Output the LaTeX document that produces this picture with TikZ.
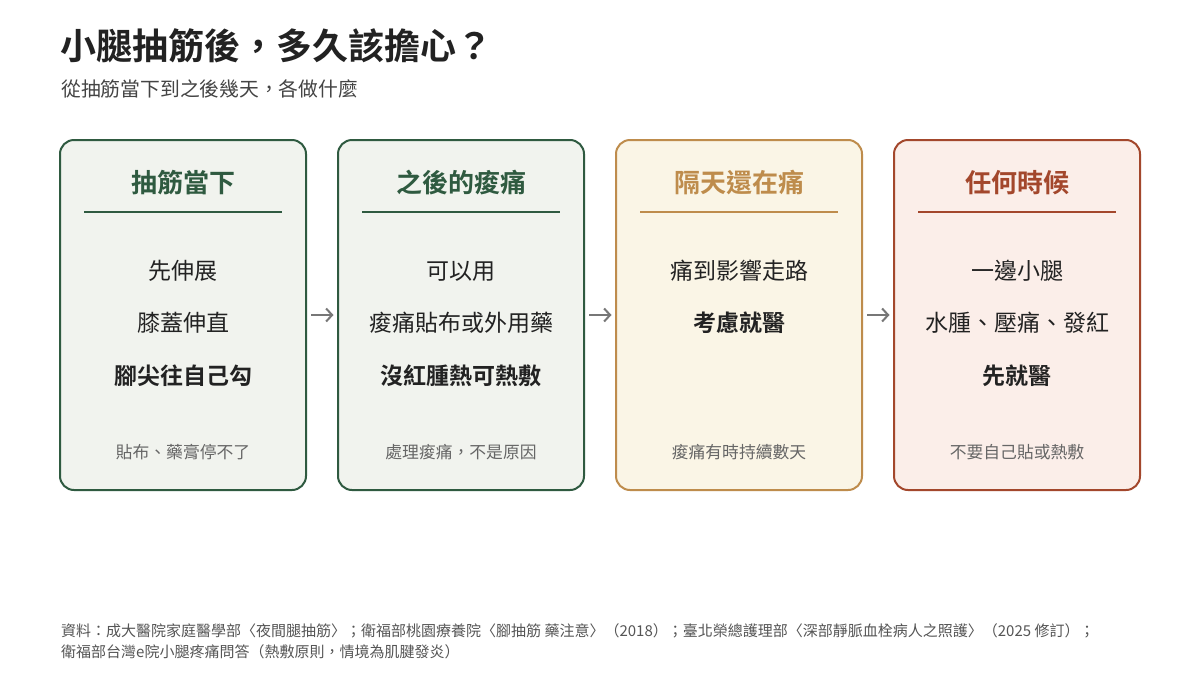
\documentclass[tikz,border=0pt]{standalone}
\usepackage{fontspec}
\setmainfont{Noto Sans CJK TC}[BoldFont={Noto Sans CJK TC Bold}]
\usepackage{xcolor}
\usetikzlibrary{positioning, arrows.meta}

\definecolor{ink}{HTML}{222222}
\definecolor{subink}{HTML}{444444}
\definecolor{noteink}{HTML}{666666}
\definecolor{srcink}{HTML}{555555}
\definecolor{arrowgray}{HTML}{777777}
\definecolor{greenedge}{HTML}{2F5A40}
\definecolor{greenfill}{HTML}{F1F3EE}
\definecolor{goldedge}{HTML}{BE8C4C}
\definecolor{goldfill}{HTML}{FAF5E6}
\definecolor{rustedge}{HTML}{A3472C}
\definecolor{rustfill}{HTML}{FBEEE9}

\tikzset{every picture/.append style={x=1pt, y=1pt}}
\tikzset{
  card/.style={draw=#1edge, fill=#1fill, line width=2pt, rounded corners=14pt,
    minimum width=246pt, minimum height=350pt, inner sep=0pt},
  cardhead/.style={text=#1edge, font=\fontsize{26}{30}\selectfont\bfseries, inner sep=0pt},
  cardrule/.style={draw=#1edge, line width=1.5pt},
  bodytxt/.style={text=ink, font=\fontsize{23}{27}\selectfont, inner sep=0pt},
  boldtxt/.style={text=ink, font=\fontsize{23}{27}\selectfont\bfseries, inner sep=0pt},
  notetxt/.style={text=noteink, font=\fontsize{16.8}{20}\selectfont, inner sep=0pt},
  flow/.style={draw=arrowgray, line width=2pt, -{Straight Barb[length=6pt, width=13pt]},
    shorten <=4pt, shorten >=3.5pt}
}

\begin{document}
\begin{tikzpicture}
  \useasboundingbox[fill=white] (0,0) rectangle (1200,-675);

  % Title block
  \node[anchor=west, inner sep=0pt, text=ink, font=\fontsize{36}{42}\selectfont\bfseries]
    (title) at (60,-46) {小腿抽筋後，多久該擔心？};
  \node[anchor=west, inner sep=0pt, text=subink, font=\fontsize{19.8}{24}\selectfont]
    (subtitle) at (61,-89) {從抽筋當下到之後幾天，各做什麼};

  % Cards
  \node[card=green] (c1) at (183,-315) {};
  \node[card=green] (c2) at (461,-315) {};
  \node[card=gold]  (c3) at (739,-315) {};
  \node[card=rust]  (c4) at (1017,-315) {};

  % Card 1
  \node[cardhead=green] (h1) at ([yshift=-44pt]c1.north) {抽筋當下};
  \draw[cardrule=green] ([xshift=25pt, yshift=-73pt]c1.north west) -- ([xshift=-25pt, yshift=-73pt]c1.north east);
  \node[bodytxt] (a1) at ([yshift=-132pt]c1.north) {先伸展};
  \node[bodytxt] (a2) at ([yshift=-184pt]c1.north) {膝蓋伸直};
  \node[boldtxt] (a3) at ([yshift=-237pt]c1.north) {腳尖往自己勾};
  \node[notetxt] (n1) at ([yshift=-313pt]c1.north) {貼布、藥膏停不了};

  % Card 2
  \node[cardhead=green] (h2) at ([yshift=-44pt]c2.north) {之後的痠痛};
  \draw[cardrule=green] ([xshift=25pt, yshift=-73pt]c2.north west) -- ([xshift=-25pt, yshift=-73pt]c2.north east);
  \node[bodytxt] (b1) at ([yshift=-132pt]c2.north) {可以用};
  \node[bodytxt] (b2) at ([yshift=-184pt]c2.north) {痠痛貼布或外用藥};
  \node[boldtxt] (b3) at ([yshift=-237pt]c2.north) {沒紅腫熱可熱敷};
  \node[notetxt] (n2) at ([yshift=-313pt]c2.north) {處理痠痛，不是原因};

  % Card 3
  \node[cardhead=gold] (h3) at ([yshift=-44pt]c3.north) {隔天還在痛};
  \draw[cardrule=gold] ([xshift=25pt, yshift=-73pt]c3.north west) -- ([xshift=-25pt, yshift=-73pt]c3.north east);
  \node[bodytxt] (d1) at ([yshift=-132pt]c3.north) {痛到影響走路};
  \node[boldtxt] (d2) at ([yshift=-184pt]c3.north) {考慮就醫};
  \node[notetxt] (n3) at ([yshift=-313pt]c3.north) {痠痛有時持續數天};

  % Card 4
  \node[cardhead=rust] (h4) at ([yshift=-44pt]c4.north) {任何時候};
  \draw[cardrule=rust] ([xshift=25pt, yshift=-73pt]c4.north west) -- ([xshift=-25pt, yshift=-73pt]c4.north east);
  \node[bodytxt] (e1) at ([yshift=-132pt]c4.north) {一邊小腿};
  \node[bodytxt] (e2) at ([yshift=-184pt]c4.north) {水腫、壓痛、發紅};
  \node[boldtxt] (e3) at ([yshift=-237pt]c4.north) {先就醫};
  \node[notetxt] (n4) at ([yshift=-313pt]c4.north) {不要自己貼或熱敷};

  % Arrows between cards
  \draw[flow] (c1) -- (c2);
  \draw[flow] (c2) -- (c3);
  \draw[flow] (c3) -- (c4);

  % Sources
  \node[anchor=west, inner sep=0pt, text=srcink, font=\fontsize{15}{18}\selectfont]
    (src1) at (61,-631) {資料：成大醫院家庭醫學部〈夜間腿抽筋〉；衛福部桃園療養院〈腳抽筋 藥注意〉（2018）；臺北榮總護理部〈深部靜脈血栓病人之照護〉（2025 修訂）；};
  \node[anchor=west, inner sep=0pt, text=srcink, font=\fontsize{15}{18}\selectfont]
    (src2) at (61,-652) {衛福部台灣e院小腿疼痛問答（熱敷原則，情境為肌腱發炎）};
\end{tikzpicture}
\end{document}
